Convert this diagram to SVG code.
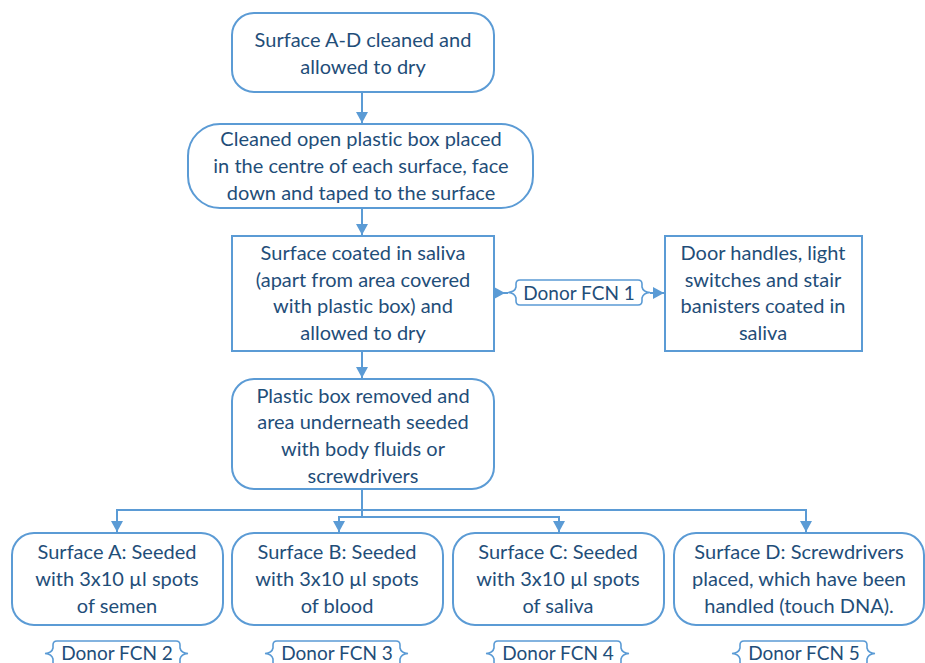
<svg xmlns="http://www.w3.org/2000/svg" width="925" height="663" viewBox="0 0 925 663">
<defs>
<style>
.box{fill:#fff;stroke:#5B9BD5;stroke-width:2}
.ln{fill:none;stroke:#5B9BD5;stroke-width:2}
.br{fill:#fff;stroke:#5B9BD5;stroke-width:1.6}
text{font-family:Lato,"Liberation Sans",sans-serif;font-size:20px;fill:#1F4E79;text-anchor:middle;font-variant-ligatures:none}
.lb{font-size:19px}
</style>
<marker id="ah" markerUnits="userSpaceOnUse" markerWidth="12" markerHeight="12" refX="11" refY="6" orient="auto">
<path d="M0,0 L11,6 L0,12 Z" fill="#5B9BD5"/>
</marker>
</defs>
<g id="connectors">
<path class="ln" d="M362,92 V123" marker-end="url(#ah)"/>
<path class="ln" d="M362,208 V235" marker-end="url(#ah)"/>
<path class="ln" d="M362,351 V378" marker-end="url(#ah)"/>
<path class="ln" d="M362,489 V510 H117 V532" marker-end="url(#ah)"/>
<path class="ln" d="M362,510 H806 V532" marker-end="url(#ah)"/>
<path class="ln" d="M362,510 V517 H339 V532" marker-end="url(#ah)"/>
<path class="ln" d="M362,517 H559 V532" marker-end="url(#ah)"/>
<path class="ln" d="M494,293 H508"/>
<path d="M494,287 L505,293 L494,299 Z" fill="#5B9BD5"/>
<path class="ln" d="M650,293 H664" marker-end="url(#ah)"/>
</g>
<g id="n1">
<rect class="box" x="232" y="13" width="262" height="79" rx="22"/>
<text x="363" y="47">Surface A-D cleaned and</text>
<text x="363" y="74">allowed to dry</text>
</g>
<g id="n2">
<rect class="box" x="188" y="124" width="345" height="84" rx="32"/>
<text x="361" y="146">Cleaned open plastic box placed</text>
<text x="361" y="173">in the centre of each surface, face</text>
<text x="361" y="200">down and taped to the surface</text>
</g>
<g id="n3">
<rect class="box" x="232" y="236" width="262" height="115"/>
<text x="363" y="260">Surface coated in saliva</text>
<text x="363" y="287">(apart from area covered</text>
<text x="363" y="313">with plastic box) and</text>
<text x="363" y="340">allowed to dry</text>
</g>
<g id="n4">
<rect class="box" x="665" y="236" width="197" height="115"/>
<text x="763" y="260">Door handles, light</text>
<text x="763" y="287">switches and stair</text>
<text x="763" y="313">banisters coated in</text>
<text x="763" y="340">saliva</text>
</g>
<g id="n5">
<rect class="box" x="232" y="379" width="262" height="110" rx="22"/>
<text x="363" y="403">Plastic box removed and</text>
<text x="363" y="429">area underneath seeded</text>
<text x="363" y="456">with body fluids or</text>
<text x="363" y="483">screwdrivers</text>
</g>
<g id="d1">
<path class="br" d="M520,280 H638 Q642,280 642,284 V287 Q643,292 650,292.5 Q643,293 642,298 V301 Q642,305 638,305 H520 Q516,305 516,301 V298 Q515,293 508,292.5 Q515,292 516,287 V284 Q516,280 520,280 Z"/>
<text class="lb" x="579" y="300">Donor FCN 1</text>
</g>
<g id="nA">
<rect class="box" x="12" y="533" width="211" height="92" rx="22"/>
<text x="117" y="559">Surface A: Seeded</text>
<text x="117" y="586">with 3x10 µl spots</text>
<text x="117" y="613">of semen</text>
</g>
<g id="nB">
<rect class="box" x="232" y="533" width="211" height="92" rx="22"/>
<text x="337" y="559">Surface B: Seeded</text>
<text x="337" y="586">with 3x10 µl spots</text>
<text x="337" y="613">of blood</text>
</g>
<g id="nC">
<rect class="box" x="453" y="533" width="211" height="92" rx="22"/>
<text x="558" y="559">Surface C: Seeded</text>
<text x="558" y="586">with 3x10 µl spots</text>
<text x="558" y="613">of saliva</text>
</g>
<g id="nD">
<rect class="box" x="674" y="533" width="250" height="92" rx="22"/>
<text x="799" y="559">Surface D: Screwdrivers</text>
<text x="799" y="586">placed, which have been</text>
<text x="799" y="613">handled (touch DNA).</text>
</g>
<g id="d2">
<path class="br" d="M57,641 H176 Q180,641 180,645 V648 Q181,653 188,653.5 Q181,654 180,659 V662 Q180,666 176,666 H57 Q53,666 53,662 V659 Q52,654 45,653.5 Q52,653 53,648 V645 Q53,641 57,641 Z"/>
<text class="lb" x="117" y="660">Donor FCN 2</text>
</g>
<g id="d3">
<path class="br" d="M277,641 H396 Q400,641 400,645 V648 Q401,653 408,653.5 Q401,654 400,659 V662 Q400,666 396,666 H277 Q273,666 273,662 V659 Q272,654 265,653.5 Q272,653 273,648 V645 Q273,641 277,641 Z"/>
<text class="lb" x="337" y="660">Donor FCN 3</text>
</g>
<g id="d4">
<path class="br" d="M498,641 H617 Q621,641 621,645 V648 Q622,653 629,653.5 Q622,654 621,659 V662 Q621,666 617,666 H498 Q494,666 494,662 V659 Q493,654 486,653.5 Q493,653 494,648 V645 Q494,641 498,641 Z"/>
<text class="lb" x="558" y="660">Donor FCN 4</text>
</g>
<g id="d5">
<path class="br" d="M744,641 H863 Q867,641 867,645 V648 Q868,653 875,653.5 Q868,654 867,659 V662 Q867,666 863,666 H744 Q740,666 740,662 V659 Q739,654 732,653.5 Q739,653 740,648 V645 Q740,641 744,641 Z"/>
<text class="lb" x="804" y="660">Donor FCN 5</text>
</g>
</svg>
